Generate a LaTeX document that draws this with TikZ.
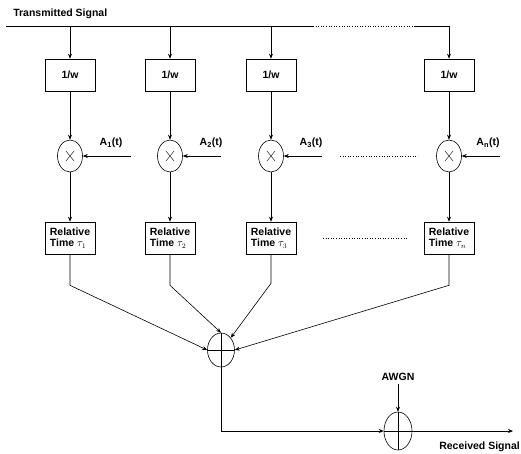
\documentclass[tikz,border=0pt]{standalone}
\usepackage{fontspec}
\setmainfont{Liberation Sans}
\usetikzlibrary{shapes.geometric, arrows.meta, positioning, calc}

\begin{document}
\begin{tikzpicture}[
  x=1pt, y=-1pt,
  font=\bfseries\fontsize{10.5}{11.5}\selectfont,
  line width=0.6pt,
  wbox/.style={rectangle, draw, minimum width=50pt, minimum height=32pt,
               inner sep=1pt},
  delaybox/.style={wbox, align=left},
  mult/.style={ellipse, draw, minimum width=25pt, minimum height=32pt,
               inner sep=0pt,
               path picture={\draw[thin]
                 ($(path picture bounding box.center)+(-4,-5)$) --
                 ($(path picture bounding box.center)+(4,5)$)
                 ($(path picture bounding box.center)+(4,-5)$) --
                 ($(path picture bounding box.center)+(-4,5)$);}},
  adder/.style={ellipse, draw, minimum width=27pt, minimum height=34pt,
                inner sep=0pt,
                path picture={\draw
                  (path picture bounding box.north) -- (path picture bounding box.south)
                  (path picture bounding box.west) -- (path picture bounding box.east);}},
  arrow/.style={-{Stealth[length=5pt, width=4pt]}}
]
\useasboundingbox (0,0) rectangle (521,453);

% input bus
\node[anchor=west, inner sep=0pt] (title) at (13,14) {Transmitted Signal};
\coordinate (busL) at (6,26);
\coordinate (gapL) at (313,26);
\coordinate (gapR) at (415,26);
\coordinate (busR) at (449,26);

% weighting boxes
\node[wbox] (w1) at (70,75) {1/w};
\node[wbox] (w2) at (170,75) {1/w};
\node[wbox] (w3) at (271,75) {1/w};
\node[wbox] (w4) at (449,75) {1/w};

% multipliers and amplitudes
\node[mult] (m1) at (70,156) {};
\node[mult] (m2) at (170,156) {};
\node[mult] (m3) at (271,156) {};
\node[mult] (m4) at (449,156) {};
\coordinate (a1) at (131,156);
\coordinate (a2) at (221,156);
\coordinate (a3) at (322,156);
\coordinate (a4) at (500,156);
\node (l1) at (111,143) {A\textsubscript{1}(t)};
\node (l2) at (211,143) {A\textsubscript{2}(t)};
\node (l3) at (311,143) {A\textsubscript{3}(t)};
\node (l4) at (488,143) {A\textsubscript{n}(t)};
\coordinate (dm1) at (340,156);
\coordinate (dm2) at (418,156);

% delays
\node[delaybox] (r1) at (70,238) {Relative\\Time $\tau_1$};
\node[delaybox] (r2) at (170,238) {Relative\\Time $\tau_2$};
\node[delaybox] (r3) at (271,238) {Relative\\Time $\tau_3$};
\node[delaybox] (r4) at (449,238) {Relative\\Time $\tau_n$};
\coordinate (dr1) at (323,238);
\coordinate (dr2) at (407,238);

% combiner and noise
\node[adder] (sum) at (221,350) {};
\node[adder, minimum width=28pt, minimum height=38pt] (noise) at (398,431) {};
\node (awgn) at (398,377) {AWGN};
\coordinate (out) at (513,431);
\node[anchor=west, inner sep=0pt] (rx) at (439,447) {Received Signal};

\draw (busL) -- (gapL);
\draw[dotted] (gapL) -- (gapR);
\draw (gapR) -- (busR);
\draw[arrow] (w1 |- busL) -- (w1);
\draw[arrow] (w2 |- busL) -- (w2);
\draw[arrow] (w3 |- busL) -- (w3);
\draw[arrow] (busR) -- (w4);

\draw[arrow] (w1) -- (m1);
\draw[arrow] (w2) -- (m2);
\draw[arrow] (w3) -- (m3);
\draw[arrow] (w4) -- (m4);
\draw[arrow] (a1) -- (m1);
\draw[arrow] (a2) -- (m2);
\draw[arrow] (a3) -- (m3);
\draw[arrow] (a4) -- (m4);
\draw[dotted] (dm1) -- (dm2);

\draw[arrow] (m1) -- (r1);
\draw[arrow] (m2) -- (r2);
\draw[arrow] (m3) -- (r3);
\draw[arrow] (m4) -- (r4);
\draw[dotted] (dr1) -- (dr2);

\draw[arrow] (r1.south) -- ++(0,31) -- (sum.west);
\draw[arrow] (r2.south) -- ++(0,31) -- (sum.north);
\draw[arrow] (r3.south) -- ++(0,29) -- (sum.north east);
\draw[arrow] (r4.south) -- ++(0,31) -- (sum.east);

\draw[arrow] (sum.south) |- (noise.west);
\draw[arrow] (awgn) -- (noise.north);
\draw[arrow] (noise.east) -- (out);

\end{tikzpicture}
\end{document}
